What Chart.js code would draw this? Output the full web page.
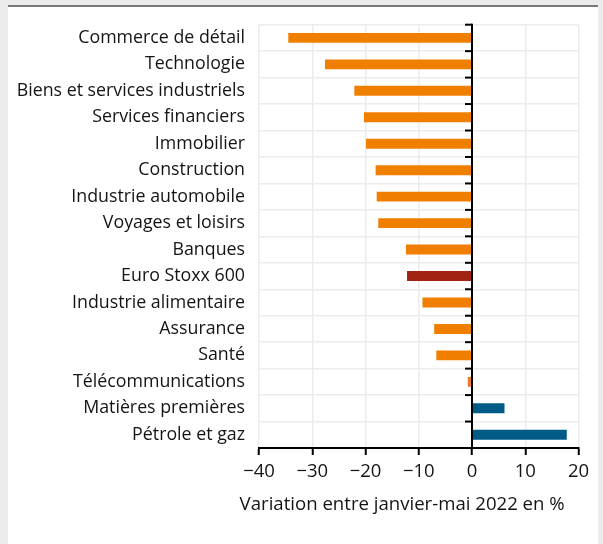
<!DOCTYPE html>
<html>
<head>
<meta charset="utf-8">
<script src="https://cdn.jsdelivr.net/npm/chart.js@4"></script>
<style>
  html, body { margin: 0; padding: 0; background: #ebebeb; width: 603px; height: 544px; overflow: hidden; }
  #panel { position: absolute; left: 8px; top: 5px; width: 590px; height: 537px; background: #ffffff; border-top: 2px solid #787878; }
  #wrap { position: absolute; left: 0; top: 0; width: 603px; height: 544px; }
</style>
</head>
<body>
<div id="panel"></div>
<div id="wrap"><canvas id="c" width="603" height="544"></canvas></div>
<script>
const categories = [
  "Commerce de détail", "Technologie", "Biens et services industriels", "Services financiers",
  "Immobilier", "Construction", "Industrie automobile", "Voyages et loisirs", "Banques",
  "Euro Stoxx 600", "Industrie alimentaire", "Assurance", "Santé", "Télécommunications",
  "Matières premières", "Pétrole et gaz"
];
const values = [-34.5, -27.6, -22.1, -20.3, -19.9, -18.1, -17.9, -17.6, -12.4, -12.2, -9.3, -7.1, -6.7, -0.8, 6.1, 17.8];
const barColors = [
  "#f07f00", "#f07f00", "#f07f00", "#f07f00", "#f07f00", "#f07f00", "#f07f00", "#f07f00", "#f07f00",
  "#a32313", "#f07f00", "#f07f00", "#f07f00", "#ec7a34", "#005b86", "#005b86"
];
const xTicks = [-40, -30, -20, -10, 0, 10, 20];
const xTitle = "Variation entre janvier-mai 2022 en %";

const FONT = "'Open Sans', sans-serif";
const TEXT = "#141414";

const zeroLine = {
  id: "zeroLine",
  afterDatasetsDraw(chart) {
    const { ctx, chartArea, scales } = chart;
    const x0 = scales.x.getPixelForValue(0);
    const y = scales.y;
    ctx.save();
    ctx.strokeStyle = "#000";
    ctx.lineWidth = 2;
    ctx.beginPath();
    ctx.moveTo(x0, chartArea.top - 1);
    ctx.lineTo(x0, chartArea.bottom);
    ctx.stroke();
    const n = categories.length;
    const step = (y.getPixelForValue(n - 1) - y.getPixelForValue(0)) / (n - 1);
    for (let i = 0; i < n; i++) {
      const yy = y.getPixelForValue(i) - step / 2;
      ctx.beginPath();
      ctx.moveTo(x0 - 7, yy);
      ctx.lineTo(x0, yy);
      ctx.stroke();
    }
    ctx.restore();
  },
  afterDraw(chart) {
    const { ctx, chartArea } = chart;
    ctx.save();
    ctx.font = "18.6px " + FONT;
    ctx.fillStyle = TEXT;
    ctx.textAlign = "center";
    ctx.textBaseline = "middle";
    ctx.fillText(xTitle, chartArea.left + chartArea.width * 0.448, chartArea.bottom + 57);
    ctx.restore();
  }
};

new Chart(document.getElementById("c"), {
  type: "bar",
  data: {
    labels: categories,
    datasets: [{
      data: values,
      backgroundColor: barColors,
      borderWidth: 0,
      barPercentage: 0.75,
      categoryPercentage: 0.5
    }]
  },
  options: {
    indexAxis: "y",
    responsive: false,
    animation: false,
    events: [],
    layout: { padding: { top: 24, right: 24.5, left: 0, bottom: 0 } },
    plugins: { legend: { display: false }, tooltip: { enabled: false }, title: { display: false } },
    scales: {
      x: {
        type: "linear",
        min: -40,
        max: 20,
        afterBuildTicks(scale) { scale.ticks = xTicks.map(v => ({ value: v })); },
        afterFit(scale) { scale.height = 96; },
        grid: {
          color: "#ececec",
          lineWidth: 1.5,
          tickColor: "#000",
          tickWidth: 2,
          tickLength: 7
        },
        border: { display: true, color: "#000", width: 2 },
        ticks: {
          color: TEXT,
          font: { family: FONT, size: 18.5 },
          padding: 6,
          callback: v => String(v).replace("-", "\u2212")
        }
      },
      y: {
        type: "category",
        afterFit(scale) { scale.width = 259; },
        grid: { color: "#ececec", lineWidth: 1.5, drawTicks: false, offset: true },
        border: { display: false },
        ticks: {
          color: TEXT,
          font: { family: FONT, size: 17.8 },
          padding: 14
        }
      }
    }
  },
  plugins: [zeroLine]
});
</script>
</body>
</html>
